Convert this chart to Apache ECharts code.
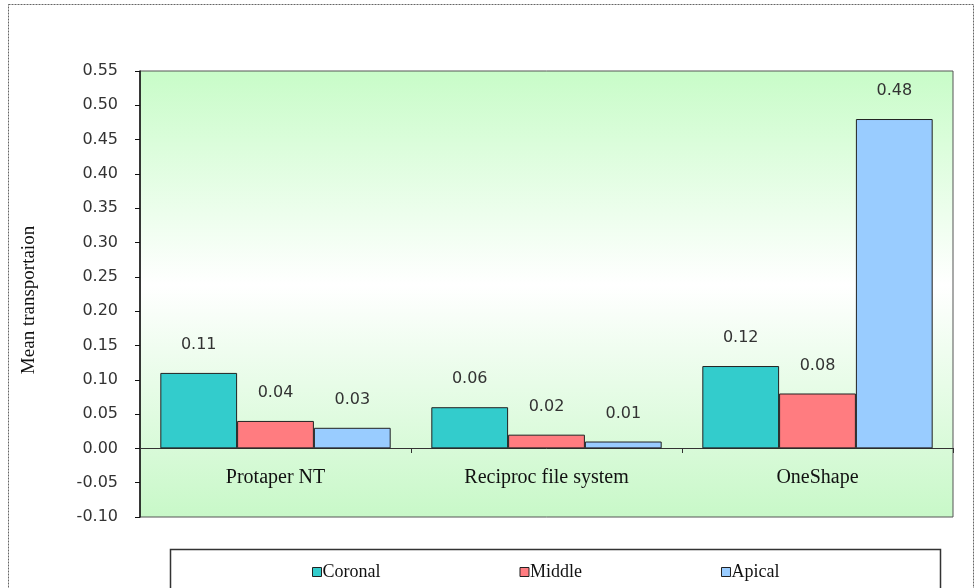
<!DOCTYPE html>
<html>
<head>
<meta charset="utf-8">
<script src="https://cdn.jsdelivr.net/npm/echarts@6/dist/echarts.min.js"></script>
<style>
  html, body { margin: 0; padding: 0; background: #fff; }
  #chart { width: 976px; height: 588px; }
</style>
</head>
<body>
<div id="chart"></div>
<script>
var categories = ['Protaper NT', 'Reciproc file system', 'OneShape'];
var coronal = [0.11, 0.06, 0.12];
var middle = [0.04, 0.02, 0.08];
var apical = [0.03, 0.01, 0.48];

var chart = echarts.init(document.getElementById('chart'));

var serif = '"Liberation Serif", "DejaVu Serif", serif';
var sans = '"DejaVu Sans", Verdana, sans-serif';

function makeSeries(name, data, color) {
  return {
    name: name,
    type: 'bar',
    data: data,
    barGap: 0,
    barCategoryGap: '15%',
    itemStyle: { color: color, borderColor: '#222', borderWidth: 1 },
    label: {
      show: true,
      position: 'top',
      distance: 20,
      color: '#333',
      fontFamily: sans,
      fontSize: 16,
      formatter: function (p) { return p.value.toFixed(2); }
    }
  };
}

var option = {
  animation: false,
  backgroundColor: '#fff',
  graphic: [
    {
      type: 'rect',
      shape: { x: 8.5, y: 4.5, width: 965, height: 600 },
      style: { fill: 'none', stroke: '#666', lineWidth: 1, lineDash: [2, 1] },
      silent: true, z: -1
    },
    {
      type: 'rect',
      shape: { x: 170.5, y: 549.5, width: 770, height: 60 },
      style: { fill: '#fff', stroke: '#333', lineWidth: 1.5 },
      silent: true, z: 0
    }
  ],
  grid: {
    left: 140,
    right: 23,
    top: 71,
    bottom: 71,
    show: true,
    borderColor: '#555',
    borderWidth: 1,
    backgroundColor: new echarts.graphic.LinearGradient(0, 0, 0, 1, [
      { offset: 0, color: '#c8fcc8' },
      { offset: 0.48, color: '#ffffff' },
      { offset: 1, color: '#c8f8c8' }
    ])
  },
  legend: {
    left: 307,
    top: 558,
    itemGap: 139,
    itemWidth: 9,
    itemHeight: 9,
    icon: 'rect',
    z: 5,
    itemStyle: { borderColor: '#222', borderWidth: 1 },
    textStyle: { fontFamily: serif, fontSize: 18, color: '#111', padding: [0, 0, 0, -4] },
    data: ['Coronal', 'Middle', 'Apical']
  },
  xAxis: {
    type: 'category',
    data: categories,
    position: 'bottom',
    offset: -69,
    axisLine: { onZero: false, lineStyle: { color: '#333', width: 1 } },
    axisTick: { show: true, length: 5, lineStyle: { color: '#333' } },
    axisLabel: {
      margin: 20,
      color: '#111',
      fontFamily: serif,
      fontSize: 20
    },
    splitLine: { show: false }
  },
  yAxis: {
    type: 'value',
    min: -0.1,
    max: 0.55,
    interval: 0.05,
    name: 'Mean transportaion',
    nameLocation: 'middle',
    nameGap: 101,
    nameRotate: 90,
    nameTextStyle: { fontFamily: serif, fontSize: 19, color: '#111', padding: [0, 12, 0, 0] },
    axisLine: { show: true, lineStyle: { color: '#111', width: 1.5 } },
    axisTick: { show: true, length: 5, lineStyle: { color: '#111' } },
    axisLabel: {
      margin: 22,
      color: '#333',
      fontFamily: sans,
      fontSize: 16,
      formatter: function (v) { return (Math.round(v * 100) / 100).toFixed(2); }
    },
    splitLine: { show: false }
  },
  series: [
    makeSeries('Coronal', coronal, '#33cccc'),
    makeSeries('Middle', middle, '#ff7c80'),
    makeSeries('Apical', apical, '#99ccff')
  ]
};

chart.setOption(option);
</script>
</body>
</html>
